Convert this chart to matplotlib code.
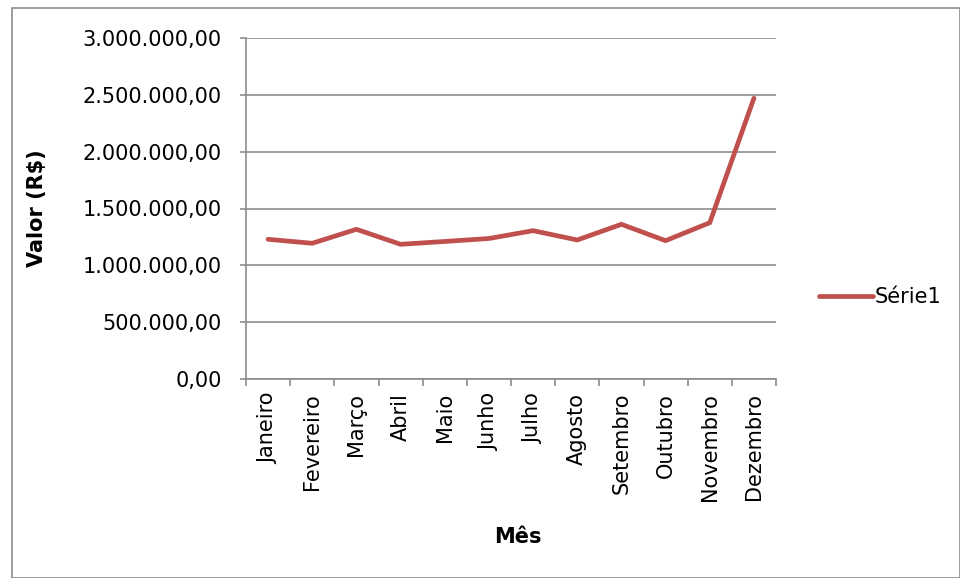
import matplotlib
matplotlib.use("Agg")
import matplotlib.pyplot as plt
from matplotlib.patches import Rectangle
from matplotlib.ticker import FuncFormatter

meses = ["Janeiro", "Fevereiro", "Março", "Abril", "Maio", "Junho",
         "Julho", "Agosto", "Setembro", "Outubro", "Novembro", "Dezembro"]
valores = [1229000, 1194000, 1317000, 1185000, 1210000, 1236000,
           1305000, 1223000, 1361000, 1217000, 1375000, 2470000]
y_ticks = [0, 500000, 1000000, 1500000, 2000000, 2500000, 3000000]

plt.rcParams["font.family"] = ["DejaVu Sans"]
FS = 15

fig = plt.figure(figsize=(9.6, 5.78), dpi=100)
W, H = 960, 578

# outer chart border
fig.patches.append(Rectangle((12 / W, 1 - 578 / H), (960 - 12) / W, (578 - 8) / H,
                             transform=fig.transFigure, fill=False,
                             edgecolor="#8c8c8c", linewidth=1.2))

ax = fig.add_axes([246 / W, 1 - 379 / H, (776 - 246) / W, (379 - 38) / H])

x = list(range(len(meses)))
ax.plot(x, valores, color="#c0504d", linewidth=3.4, solid_capstyle="round",
        label="Série1")

ax.set_xlim(-0.5, len(meses) - 0.5)
ax.set_ylim(0, 3000000)
ax.set_yticks(y_ticks)
ax.yaxis.set_major_formatter(FuncFormatter(
    lambda v, p: f"{v:,.2f}".replace(",", "X").replace(".", ",").replace("X", ".")))
ax.grid(axis="y", color="#8c8c8c", linewidth=1.2)
ax.set_axisbelow(True)

ax.set_xticks([i - 0.5 for i in range(len(meses) + 1)])
ax.set_xticklabels([])
ax.set_xticks(x, minor=True)
ax.set_xticklabels(meses, minor=True, rotation=90, fontsize=FS)
ax.tick_params(axis="x", which="minor", length=0, pad=10)
ax.tick_params(axis="x", which="major", length=5, color="#8c8c8c", width=1.2)
ax.tick_params(axis="y", length=4.5, color="#8c8c8c", width=1.2, labelsize=FS, pad=13)

for s in ["top", "right"]:
    ax.spines[s].set_visible(False)
for s in ["left", "bottom"]:
    ax.spines[s].set_color("#8c8c8c")
    ax.spines[s].set_linewidth(1.2)

fig.text(37 / W, 1 - 208 / H, "Valor (R$)", rotation=90, ha="center", va="center",
         fontsize=FS, fontweight="bold")
fig.text(518 / W, 1 - 537 / H, "Mês", ha="center", va="center",
         fontsize=FS, fontweight="bold")

ax.legend(loc="center left", bbox_to_anchor=(800 / W, 1 - 297 / H),
          bbox_transform=fig.transFigure, frameon=False, fontsize=FS,
          handlelength=2.6, handletextpad=0.1)

fig.savefig("out.png", dpi=100)
